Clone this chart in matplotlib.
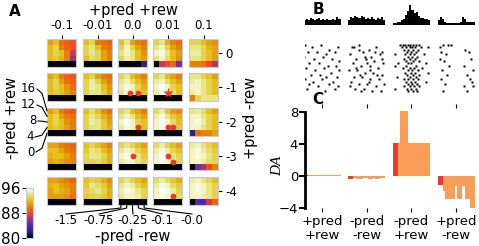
import numpy as np
import matplotlib
matplotlib.use("Agg")
import matplotlib.pyplot as plt

W, H = 479, 246

# ---------------- panel A data ----------------
col_vals = ["-0.1", "-0.01", "0.0", "0.01", "0.1"]      # +pred +rew
row_vals = ["0", "-1", "-2", "-3", "-4"]                 # +pred -rew
inner_y = ["16", "12", "8", "4", "0"]                    # -pred +rew
inner_x = ["-1.5", "-0.75", "-0.25", "-0.1", "-0.0"]     # -pred -rew

heat_r0 = [
    [[91, 92, 89.5, 89, 88.5], [92, 93, 90, 89, 88.5], [92, 93, 92, 90, 87], [92, 92.5, 91.5, 90, 86], [78, 78, 78, 78, 78]],
    [[92, 93, 90, 89.5, 89], [93, 94, 92, 90, 89.5], [93, 94, 93, 91, 90], [92, 93.5, 93, 91, 90], [78, 78, 78, 78, 78]],
    [[92, 94, 91, 90, 89.5], [93, 95, 93, 91, 90], [94, 95, 94, 92, 90.5], [93, 94.5, 94, 92, 91], [78, 78, 78, 78, 82]],
    [[93, 94, 91.5, 90, 89.5], [94, 95, 93, 91, 90], [95, 95.5, 94, 92, 91], [94, 95, 93.5, 92, 90.5], [80, 87, 88, 89, 85]],
    [[93, 93, 92, 91, 90.5], [94, 94, 93, 91.5, 91], [94.5, 94.5, 93, 92, 91], [94, 94, 93, 92, 91], [90, 90, 89.5, 88, 86.5]],
]
heat_r1 = [
    [[91, 92, 90, 89, 88.5], [92, 93, 91, 89.5, 89], [92, 93, 92, 90.5, 89.5], [92, 92.5, 92, 91, 90], [78, 78, 78, 78, 78]],
    [[92, 93, 91, 90, 89.5], [93, 94.5, 93, 91, 90], [93, 94.5, 94, 92, 90.5], [93, 94, 94, 92.5, 91], [78, 78, 78, 78, 78]],
    [[93, 94, 92, 91, 90], [94, 95, 93.5, 92, 91], [94.5, 95.5, 95, 93, 91.5], [94, 95, 95, 93, 92], [78, 78, 78, 78, 78]],
    [[93, 94, 92, 91, 90], [94.5, 95, 93.5, 92, 91], [95, 96, 95, 93, 92], [94.5, 95.5, 95, 93.5, 92], [78, 78, 78, 78, 78]],
    [[94, 94, 93, 92, 91], [94.5, 95, 94, 93, 92], [95, 95, 94, 93, 92], [94.5, 95, 94, 93, 92], [90, 93, 94, 94, 94]],
]
heat_r2 = [
    [[91, 92, 90, 89, 88.5], [92, 93, 91, 90, 89.5], [92, 93, 92, 90.5, 90], [92, 92.5, 92, 91, 90], [78, 78, 78, 78, 78]],
    [[92, 93.5, 92, 90.5, 89.5], [93, 94, 93, 91.5, 90.5], [93, 94.5, 94, 92.5, 91], [93, 94, 94, 92.5, 91.5], [78, 78, 78, 78, 78]],
    [[93, 94, 92, 91, 90], [94, 95, 94, 92, 91], [95, 96, 95, 93, 92], [94.5, 95.5, 95, 93.5, 92], [78, 78, 78, 78, 78]],
    [[93.5, 94.5, 92.5, 91, 90.5], [94.5, 95.5, 94, 92.5, 91.5], [95, 96, 95, 93.5, 92], [95, 95.5, 95, 93.5, 92.5], [78, 78, 78, 78, 78]],
    [[94, 94.5, 93.5, 92, 91], [95, 95, 94, 93, 92], [95, 95.5, 94.5, 93, 92], [95, 95, 94, 93, 92], [82, 89.5, 90, 90, 91]],
]
heat_r3 = [
    [[91, 91, 90, 89.5, 89], [92, 92, 91, 90, 89.5], [91.5, 92, 92, 91, 90], [91, 91.5, 91, 90.5, 90], [78, 78, 78, 78, 78]],
    [[92, 93, 92, 91, 90], [92.5, 94, 93.5, 92, 91], [93, 94, 94, 93, 91.5], [93, 93, 93.5, 92.5, 91.5], [78, 78, 78, 78, 78]],
    [[93, 94, 93, 92, 91], [94, 95, 94.5, 93, 92], [95, 95.5, 95, 94, 92.5], [94.5, 95, 95, 94, 93], [78, 78, 78, 78, 78]],
    [[93.5, 94.5, 93, 92, 91], [94.5, 95.5, 94.5, 93, 92], [95, 96, 95, 94, 93], [95, 95.5, 95, 94, 93], [78, 78, 78, 78, 78]],
    [[94.5, 95, 94, 93, 92], [95, 95.5, 94.5, 93.5, 92.5], [95, 95.5, 95, 94, 93], [95, 95, 94.5, 93.5, 93], [79, 85, 86, 88, 90]],
]
heat_r4 = [
    [[91, 91, 90.5, 90, 89], [91.5, 92, 91, 90.5, 90], [91, 92, 91.5, 91, 90], [91, 91, 91, 90.5, 89.5], [78, 78, 78, 78, 78]],
    [[92, 93, 92.5, 91.5, 90.5], [92.5, 94, 93.5, 92.5, 91], [93, 93.5, 94, 93, 91.5], [92.5, 93, 93, 92.5, 91.5], [78, 78, 78, 78, 78]],
    [[93, 94, 93, 92, 91], [94, 95, 94.5, 93, 92], [94.5, 95.5, 95, 94, 93], [94, 95, 95, 94.5, 93], [78, 78, 78, 78, 78]],
    [[93.5, 94.5, 93.5, 92.5, 91.5], [94.5, 95.5, 95, 93.5, 92.5], [95, 96, 95.5, 94.5, 93], [95, 95.5, 95, 94.5, 93.5], [78, 78, 78, 78, 78]],
    [[94.5, 95, 94, 93, 92], [95, 95.5, 95, 94, 93], [95, 95.5, 95, 94, 93], [95, 95, 94.5, 94, 93], [79, 84, 84, 87, 89]],
]
heat = [heat_r0, heat_r1, heat_r2, heat_r3, heat_r4]

# best parameter markers: (outer row, outer col, x cell, y cell, marker)
best = [(1, 2, 1.6, 3.0, "o"), (1, 2, 2.9, 3.0, "o"), (1, 3, 2.1, 3.0, "*"),
        (2, 2, 2.95, 2.9, "o"), (2, 3, 2.1, 2.9, "o"), (2, 3, 2.95, 2.9, "o"),
        (3, 2, 2.1, 2.0, "o"), (3, 3, 2.1, 2.0, "o"), (3, 3, 2.95, 3.05, "o"),
        (4, 3, 2.95, 2.9, "o")]

# ---------------- panel B data ----------------
conds = ["+pred\n+rew", "-pred\n-rew", "-pred\n+rew", "+pred\n-rew"]

psth_pp = [4, 5, 4, 6, 5, 4, 5, 6, 4, 5, 4, 5, 4, 4, 5, 4, 7, 5]
psth_mm = [4, 7, 6, 8, 7, 6, 8, 7, 5, 6, 5, 7, 5, 4, 6, 5, 7, 4]
psth_mp = [2, 2, 3, 3, 4, 5, 9, 12, 17, 13, 10, 11, 8, 6, 6, 5, 5, 4]
psth_pm = [4, 7, 5, 3, 2, 2, 2, 2, 2, 2, 2, 3, 7, 5, 3, 3, 3, 3]

# raster spikes: (time fraction, trial)
spk_pp = [(0.05, 0), (0.22, 1), (0.48, 0), (0.70, 2), (0.93, 1), (0.12, 3), (0.36, 3), (0.60, 4),
          (0.85, 3), (0.02, 5), (0.28, 6), (0.52, 5), (0.78, 6), (0.95, 7), (0.15, 8), (0.42, 8),
          (0.66, 9), (0.88, 9), (0.08, 10), (0.32, 11), (0.56, 10), (0.74, 12), (0.97, 11), (0.20, 13),
          (0.45, 13), (0.62, 14), (0.90, 14), (0.04, 15), (0.26, 16), (0.50, 15), (0.80, 16), (0.14, 17),
          (0.38, 18), (0.70, 17), (0.92, 18), (0.10, 19), (0.58, 20), (0.84, 19)]
spk_mm = [(0.10, 1), (0.30, 0), (0.55, 2), (0.75, 1), (0.92, 3), (0.05, 4), (0.40, 3), (0.62, 5),
          (0.85, 4), (0.20, 6), (0.48, 6), (0.70, 7), (0.95, 8), (0.12, 8), (0.35, 9), (0.58, 9),
          (0.80, 10), (0.02, 11), (0.25, 11), (0.45, 12), (0.68, 12), (0.90, 13), (0.15, 14), (0.38, 14),
          (0.60, 15), (0.82, 15), (0.08, 16), (0.30, 17), (0.52, 17), (0.75, 18), (0.97, 17), (0.18, 19),
          (0.42, 19), (0.65, 20), (0.88, 20), (0.28, 2), (0.50, 8), (0.22, 10), (0.72, 3), (0.60, 11),
          (0.05, 18), (0.35, 20), (0.78, 13), (0.45, 5), (0.15, 1), (0.92, 6), (0.55, 16), (0.32, 13)]
spk_mp = [(0.20, 0), (0.27, 0), (0.33, 0), (0.40, 0), (0.47, 0), (0.55, 0), (0.62, 0), (0.70, 0),
          (0.25, 1), (0.35, 1), (0.45, 1), (0.52, 1), (0.60, 1), (0.75, 1), (0.95, 1),
          (0.30, 2), (0.42, 2), (0.55, 2), (0.68, 2), (0.38, 3), (0.50, 3), (0.62, 3), (0.05, 4),
          (0.33, 4), (0.45, 4), (0.58, 4), (0.85, 4), (0.40, 5), (0.52, 5), (0.66, 5), (0.30, 6),
          (0.47, 6), (0.60, 6), (0.36, 7), (0.55, 7), (0.70, 7), (0.15, 8), (0.42, 8), (0.50, 8),
          (0.90, 8), (0.05, 9), (0.35, 9), (0.62, 9), (0.28, 10), (0.45, 10), (0.58, 10), (0.78, 10),
          (0.40, 11), (0.52, 11), (0.68, 11), (0.32, 12), (0.48, 12), (0.60, 12), (0.95, 12), (0.38, 13),
          (0.55, 13), (0.70, 13), (0.10, 14), (0.45, 14), (0.62, 14), (0.30, 15), (0.42, 15), (0.55, 15),
          (0.68, 15), (0.35, 16), (0.48, 16), (0.60, 16), (0.90, 16), (0.40, 17), (0.52, 17), (0.65, 17),
          (0.30, 18), (0.45, 18), (0.58, 18), (0.70, 18), (0.38, 19), (0.50, 19), (0.62, 19), (0.05, 19),
          (0.42, 20), (0.55, 20), (0.66, 20)]
spk_pm = [(0.05, 1), (0.15, 0), (0.27, 0), (0.36, 0), (0.10, 3), (0.22, 4), (0.75, 2), (0.85, 3),
          (0.05, 6), (0.18, 7), (0.90, 6), (0.30, 9), (0.72, 9), (0.12, 11), (0.95, 11), (0.25, 13),
          (0.80, 13), (0.08, 15), (0.88, 15), (0.20, 17), (0.70, 18), (0.95, 18), (0.15, 20), (0.78, 20),
          (0.92, 16)]

# ---------------- panel C data ----------------
da_early = [0.15, -0.4, 4.1, -1.1]
da_pp = [0.15, 0.15, 0.15, 0.15, 0.15, 0.15, 0.15, 0.15, 0.15, 0.15, 0.15, 0.15, 0.15, 0.15, 0.15]
da_mm = [-0.4, -0.4, -0.2, -0.35, -0.35, -0.35, -0.2, -0.2, -0.35, -0.35, -0.2, -0.35, -0.35, -0.2, -0.2]
da_mp = [4.1, 4.1, 4.1, 8.1, 8.1, 8.1, 4.1, 4.1, 4.1, 4.1, 4.1, 4.1, 4.1, 4.1, 4.1]
da_pm = [-1.1, -1.1, -1.9, -2.9, -2.9, -2.9, -2.9, -1.2, -2.9, -2.9, -1.2, -2.9, -2.9, -4.1, -4.1]

psths = [psth_pp, psth_mm, psth_mp, psth_pm]
spikes = [spk_pp, spk_mm, spk_mp, spk_pm]
das = [da_pp, da_mm, da_mp, da_pm]

# ---------------- drawing ----------------
fig = plt.figure(figsize=(W / 100, H / 100), dpi=100)


def px_box(x, y, w, h):
    # pixel box (from top-left) -> figure fraction
    return [x / W, 1 - (y + h) / H, w / W, h / H]


col_x = [47, 83, 118, 153, 189]
row_y = [39, 73, 108, 142, 177]
pw, ph = 29, 28
edge = "#c3c9d6"
red = "#e8392b"
orange = "#fa9d58"

for i in range(5):
    for j in range(5):
        ax = fig.add_axes(px_box(col_x[j], row_y[i], pw, ph))
        im = ax.imshow(np.array(heat[i][j]), cmap="CMRmap", vmin=80, vmax=96,
                       aspect="auto", interpolation="nearest")
        ax.set_xticks([])
        ax.set_yticks([])
        for s in ax.spines.values():
            s.set_color(edge)
            s.set_linewidth(0.8)
        if i == 0:
            ax.xaxis.tick_top()
            ax.set_xticks([2])
            ax.set_xticklabels([col_vals[j]], fontsize=8.5)
            ax.tick_params(axis="x", length=3, pad=2)
        if j == 4:
            ax.yaxis.tick_right()
            ax.set_yticks([2])
            ax.set_yticklabels([row_vals[i]], fontsize=8.5)
            ax.tick_params(axis="y", length=3, pad=2)
        for r, c, mx, my, mk in best:
            if r == i and c == j:
                ax.plot(mx, my, mk, color=red, ms=8 if mk == "*" else 4.2, mec="none")
        ax.set_xlim(-0.5, 4.5)
        ax.set_ylim(4.5, -0.5)

# colorbar
cax = fig.add_axes(px_box(26, 188, 7, 50))
cb = fig.colorbar(im, cax=cax, ticks=[80, 88, 96])
cax.yaxis.set_ticks_position("left")
cax.tick_params(labelsize=11, length=3, pad=1)
cb.outline.set_edgecolor(edge)

# overlay for labels and leader lines (pixel coordinates)
ov = fig.add_axes([0, 0, 1, 1])
ov.set_xlim(0, W)
ov.set_ylim(H, 0)
ov.axis("off")
ov.patch.set_alpha(0)

ov.text(15, 11, "A", fontsize=11, fontweight="bold", ha="center", va="center")
ov.text(318, 10, "B", fontsize=11, fontweight="bold", ha="center", va="center")
ov.text(318, 99, "C", fontsize=11, fontweight="bold", ha="center", va="center")
ov.text(133, 10, "+pred +rew", fontsize=10.5, ha="center", va="center")
ov.text(133, 236, "-pred -rew", fontsize=10.5, ha="center", va="center")
ov.text(12, 118, "-pred +rew", fontsize=10.5, ha="center", va="center", rotation=90)
ov.text(250, 118, "+pred -rew", fontsize=10.5, ha="center", va="center", rotation=90)

# inner y labels pointing to the rows of panel (2, 0)
lab_y = [89, 105, 121, 137, 152]
lab_r = [36, 36, 37, 34, 35]
for k, lab in enumerate(inner_y):
    ov.text(lab_r[k], lab_y[k], lab, fontsize=8.5, ha="right", va="center")
    ty = row_y[2] + ph / 5 * (k + 0.5)
    ov.plot([lab_r[k] + 1, 42, col_x[0]], [lab_y[k], (lab_y[k] + ty) / 2 + (lab_y[k] - ty) * 0.3, ty],
            color="black", lw=0.8, clip_on=False)

# inner x labels pointing to the columns of panel (4, 2)
lab_x = [66, 99, 133, 162, 192]
for k, lab in enumerate(inner_x):
    ov.text(lab_x[k], 220, lab, fontsize=8.5, ha="center", va="center")
    tx = col_x[2] + pw / 5 * (k + 0.5)
    ov.plot([lab_x[k], tx, tx], [214, 208, row_y[4] + ph], color="black", lw=0.8)

ov.text(278, 166, "DA", fontsize=11, family="Liberation Serif", style="italic",
        rotation=90, ha="center", va="center")

# panel B: PSTH + raster
xl = (-0.38, 3.51)
half = 0.414
hax = fig.add_axes(px_box(305, 4, 174, 21))
for k, vals in enumerate(psths):
    edges = np.linspace(k - half, k + half, len(vals) + 1)
    hax.stairs(vals, edges, fill=True, color="black", baseline=0)
hax.set_xlim(*xl)
hax.set_ylim(0, 18)
hax.axis("off")

rax = fig.add_axes(px_box(305, 44, 174, 48))
for k, sp in enumerate(spikes):
    t = np.array([s[0] for s in sp])
    n = np.array([s[1] for s in sp])
    rax.plot(k - half + t * 2 * half, n, "s", color="black", ms=1.5, mec="none")
rax.set_xlim(*xl)
rax.set_ylim(20.5, -0.5)
rax.axis("off")

# panel C: DA responses
dax = fig.add_axes(px_box(305, 108, 174, 100))
for k, vals in enumerate(das):
    edges = np.linspace(k - half, k + half, len(vals) + 1)
    bw = edges[1] - edges[0]
    dax.bar(edges[:-1], vals, width=bw, align="edge", color=orange, linewidth=0)
    dax.bar(edges[0], da_early[k], width=2 * bw, align="edge", color=red, linewidth=0)
dax.set_xlim(*xl)
dax.set_ylim(-4, 8.5)
for s in ["top", "right", "bottom"]:
    dax.spines[s].set_visible(False)
dax.spines["left"].set_linewidth(2)
dax.spines["left"].set_bounds(-4, 8)
dax.set_yticks([-4, 0, 4, 8])
dax.tick_params(axis="y", labelsize=9.5, width=1.5, length=4, pad=1)
dax.set_xticks(range(4))
dax.set_xticklabels(conds, fontsize=9.5, linespacing=1.1)
dax.tick_params(axis="x", top=True, bottom=True, length=3, width=0.8, pad=2)

fig.savefig("out.png", dpi=100)
